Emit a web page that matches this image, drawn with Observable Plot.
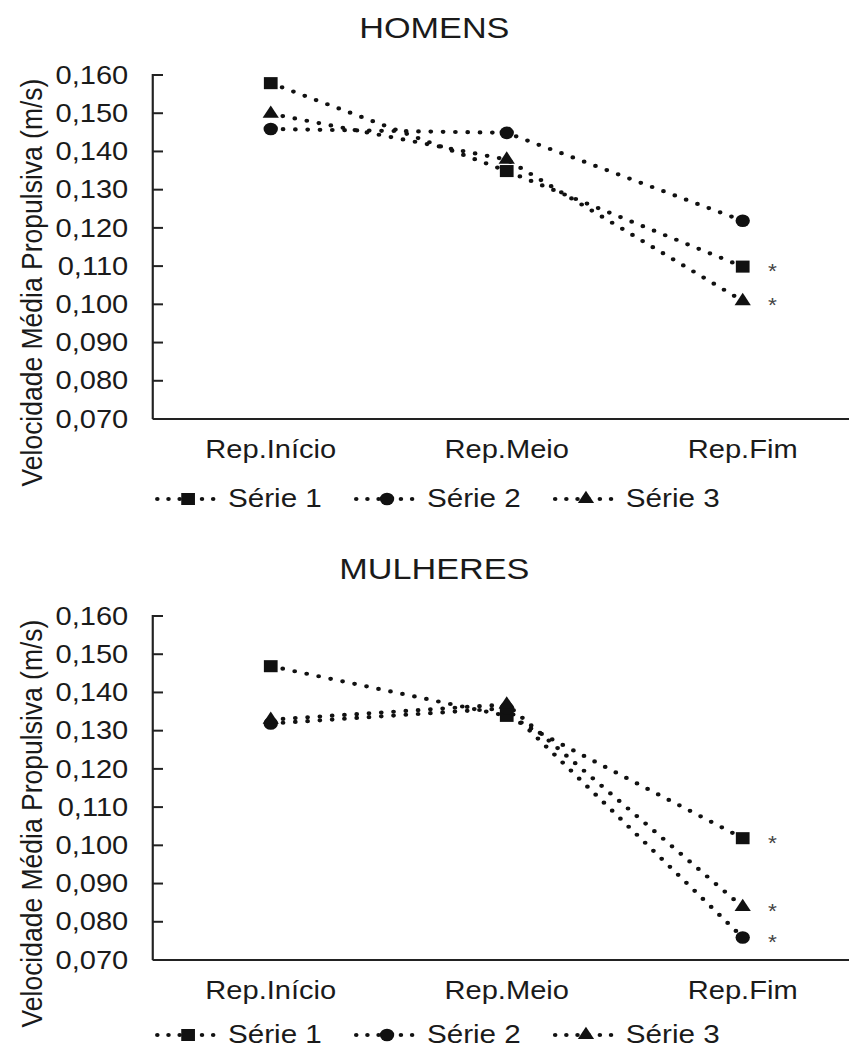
<!DOCTYPE html>
<html>
<head>
<meta charset="utf-8">
<script src="https://cdn.jsdelivr.net/npm/d3@7"></script>
<script src="https://cdn.jsdelivr.net/npm/@observablehq/plot@0.6"></script>
<style>
  html, body { margin: 0; padding: 0; background: #fff; overflow: hidden; }
  /* the figure is laid out 745px wide and widened to 849px */
  #page {
    position: relative; width: 745px; height: 1050px;
    transform: scaleX(1.14); transform-origin: 0 0;
    font-family: "Liberation Sans", Arial, sans-serif; color: #1a1a1a;
  }
  .panel { position: absolute; left: 0; width: 745px; height: 541px; }
  .title { position: absolute; left: 181px; width: 400px; top: 12.6px;
           text-align: center; font-size: 30px; line-height: 30px; }
  .chart { position: absolute; left: 0; top: 50px; }
  .legend { position: absolute; left: 0; }
</style>
</head>
<body>
<div id="page"></div>
<script>
// Repetition phases (x categories) and series
const reps = ["Rep.Início", "Rep.Meio", "Rep.Fim"];
const series = ["Série 1", "Série 2", "Série 3"];
const seriesSymbols = ["square", "circle", "triangle"];

// Mean propulsive velocity (m/s), one value per phase
const homensSerie1 = [0.158, 0.135, 0.110];
const homensSerie2 = [0.146, 0.145, 0.122];
const homensSerie3 = [0.150, 0.138, 0.101];

const mulheresSerie1 = [0.147, 0.134, 0.102];
const mulheresSerie2 = [0.132, 0.136, 0.076];
const mulheresSerie3 = [0.133, 0.137, 0.084];

// Series flagged with * at Rep.Fim
const sigHomens = ["Série 1", "Série 3"];
const sigMulheres = ["Série 1", "Série 2", "Série 3"];

// Y axis ticks and their labels
const yTicks = [0.07, 0.08, 0.09, 0.10, 0.11, 0.12, 0.13, 0.14, 0.15, 0.16];
const yTickLabels = ["0,070", "0,080", "0,090", "0,100", "0,110", "0,120", "0,130", "0,140", "0,150", "0,160"];

const yTitle = "Velocidade Média Propulsiva (m/s)";

// Layout
const W = 745, H = 420;
const marginLeft = 134, marginTop = 25, marginBottom = 51;
const xRange = [133.3, 754.4];
const ink = "#111";
const markerR = {square: 6.8, circle: 6.3, triangle: 5.3};
const font = "'Liberation Sans', Arial, sans-serif";

// Left axis line with inward ticks, and the bottom axis line
function axesFrame(index, scales, values, dims) {
  const {width, height} = dims;
  const y0 = height - marginBottom;
  const g = d3.create("svg:g").attr("fill", "none").attr("stroke", "#222");
  g.append("line")
    .attr("x1", marginLeft).attr("x2", marginLeft)
    .attr("y1", scales.y(yTicks[yTicks.length - 1]) - 1).attr("y2", y0)
    .attr("stroke-width", 1.9);
  g.append("line")
    .attr("x1", marginLeft).attr("x2", width)
    .attr("y1", y0).attr("y2", y0)
    .attr("stroke-width", 2.2);
  for (const t of yTicks) {
    g.append("line")
      .attr("x1", marginLeft).attr("x2", marginLeft + 9)
      .attr("y1", scales.y(t)).attr("y2", scales.y(t))
      .attr("stroke-width", 2);
  }
  return g.node();
}

function buildLegend(node) {
  const svg = d3.select(node).append("svg")
    .attr("width", W).attr("height", 35)
    .style("display", "block").style("overflow", "visible");
  const symbolTypes = {square: d3.symbolSquare, circle: d3.symbolCircle, triangle: d3.symbolTriangle};
  series.forEach((s, i) => {
    const x0 = 136 + i * 174.5;
    const sym = seriesSymbols[i];
    svg.append("line")
      .attr("x1", x0 + 2).attr("x2", x0 + 53).attr("y1", 19).attr("y2", 19)
      .attr("stroke", ink).attr("stroke-width", 4)
      .attr("stroke-dasharray", "0 9.8").attr("stroke-linecap", "round");
    svg.append("path")
      .attr("d", d3.symbol(symbolTypes[sym], Math.PI * markerR[sym] ** 2)())
      .attr("transform", `translate(${x0 + 29},19)`)
      .attr("fill", ink);
    svg.append("text")
      .attr("x", x0 + 64).attr("y", 27)
      .attr("font-family", font).attr("font-size", 26).attr("fill", "#1a1a1a")
      .text(s);
  });
}

function panel(title, values, sig, top, legendTop) {
  const rows = [];
  series.forEach((s, i) => reps.forEach((r, j) =>
    rows.push({serie: s, rep: r, v: values[i][j], sym: seriesSymbols[i]})));

  const div = d3.select("#page").append("div").attr("class", "panel").style("top", top + "px");
  div.append("div").attr("class", "title").text(title);

  const chart = Plot.plot({
    width: W, height: H,
    marginLeft, marginRight: 0, marginTop, marginBottom,
    style: {fontFamily: font, fontSize: "25.5px", color: "#1a1a1a", background: "transparent", overflow: "visible"},
    x: {type: "point", domain: reps, range: xRange, padding: 0.5, tickSize: 0, tickPadding: 20.5, label: null},
    y: {domain: [0.07, 0.16], ticks: yTicks, tickFormat: (d) => yTickLabels[yTicks.findIndex((t) => Math.abs(t - d) < 1e-9)], tickSize: 0, tickPadding: 22, label: null},
    symbol: {domain: series, range: seriesSymbols},
    marks: [
      axesFrame,
      Plot.line(rows, {x: "rep", y: "v", z: "serie", stroke: ink, strokeWidth: 4.2,
        strokeDasharray: "0 10.8", strokeLinecap: "round"}),
      ...series.map((s, i) => Plot.dot(rows.filter((d) => d.serie === s),
        {x: "rep", y: "v", symbol: "serie", fill: ink, stroke: "none", r: markerR[seriesSymbols[i]]})),
      Plot.text(rows.filter((d) => d.rep === "Rep.Fim" && sig.includes(d.serie)),
        {x: "rep", y: "v", text: () => "*", dx: 26, dy: 5, fontSize: 20, fill: "#444"}),
      Plot.text([yTitle], {frameAnchor: "left", text: (d) => d, rotate: -90,
        dx: -106.5, dy: 35, fontSize: 26.5, textAnchor: "middle", lineAnchor: "middle", fill: "#1a1a1a"})
    ]
  });
  div.append("div").attr("class", "chart").node().appendChild(chart);
  buildLegend(div.append("div").attr("class", "legend").style("top", legendTop + "px").node());
}

panel("HOMENS", [homensSerie1, homensSerie2, homensSerie3], sigHomens, 0, 480);
panel("MULHERES", [mulheresSerie1, mulheresSerie2, mulheresSerie3], sigMulheres, 541, 475);
</script>
</body>
</html>
